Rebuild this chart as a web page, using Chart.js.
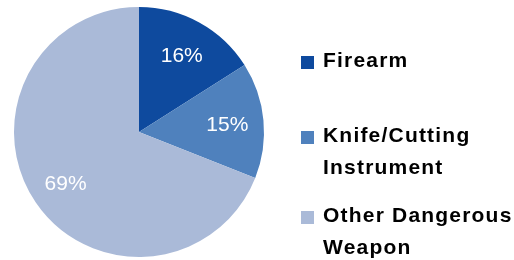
<!DOCTYPE html>
<html lang="en">
<head>
  <meta charset="UTF-8" />
  <title>Weapon type pie</title>
  <script src="https://cdn.jsdelivr.net/npm/chart.js@4.4.0/dist/chart.umd.min.js"></script>
  <style>
    body { margin: 0; background: #fff; }
    #wrap { width: 514px; height: 260px; position: relative; }
  </style>
</head>
<body>
  <div id="wrap"><canvas id="pie"></canvas></div>
  <script>
    const categories = [['Firearm'], ['Knife/Cutting', 'Instrument'], ['Other Dangerous', 'Weapon']];
    const shares = [16, 15, 69];
    const colors = ['#0E4A9E', '#4F81BD', '#AABAD8'];

    // baselines of the first line of each legend entry
    const legendBase = [67, 142, 222];

    const sliceLabels = {
      id: 'sliceLabels',
      afterDatasetsDraw(chart) {
        const ctx = chart.ctx;
        const meta = chart.getDatasetMeta(0);
        ctx.save();
        ctx.font = '21px "Liberation Sans", Arial, sans-serif';
        ctx.fillStyle = '#fff';
        ctx.textAlign = 'center';
        ctx.textBaseline = 'middle';
        meta.data.forEach((arc, i) => {
          const p = arc.getProps(['x', 'y', 'startAngle', 'endAngle', 'outerRadius'], true);
          const mid = (p.startAngle + p.endAngle) / 2;
          const r = p.outerRadius * 0.71;
          ctx.fillText(shares[i] + '%', p.x + Math.cos(mid) * r, p.y + Math.sin(mid) * r + 2);
        });
        ctx.restore();
      }
    };

    const sideLegend = {
      id: 'sideLegend',
      afterDraw(chart) {
        const ctx = chart.ctx;
        ctx.save();
        ctx.font = 'bold 21px "Liberation Sans", Arial, sans-serif';
        ctx.letterSpacing = '1.2px';
        ctx.textBaseline = 'alphabetic';
        categories.forEach((lines, i) => {
          const y = legendBase[i];
          ctx.fillStyle = colors[i];
          ctx.fillRect(301, y - 11, 13, 13);
          ctx.fillStyle = '#000';
          lines.forEach((t, j) => ctx.fillText(t, 323, y + j * 32));
        });
        ctx.restore();
      }
    };

    new Chart(document.getElementById('pie'), {
      type: 'pie',
      data: {
        labels: categories,
        datasets: [{
          data: shares,
          backgroundColor: colors,
          borderWidth: 0
        }]
      },
      options: {
        responsive: true,
        maintainAspectRatio: false,
        animation: false,
        layout: { padding: { top: 7, bottom: 3, left: 14, right: 250 } },
        plugins: {
          legend: { display: false },
          tooltip: { enabled: false }
        }
      },
      plugins: [sliceLabels, sideLegend]
    });
  </script>
</body>
</html>
